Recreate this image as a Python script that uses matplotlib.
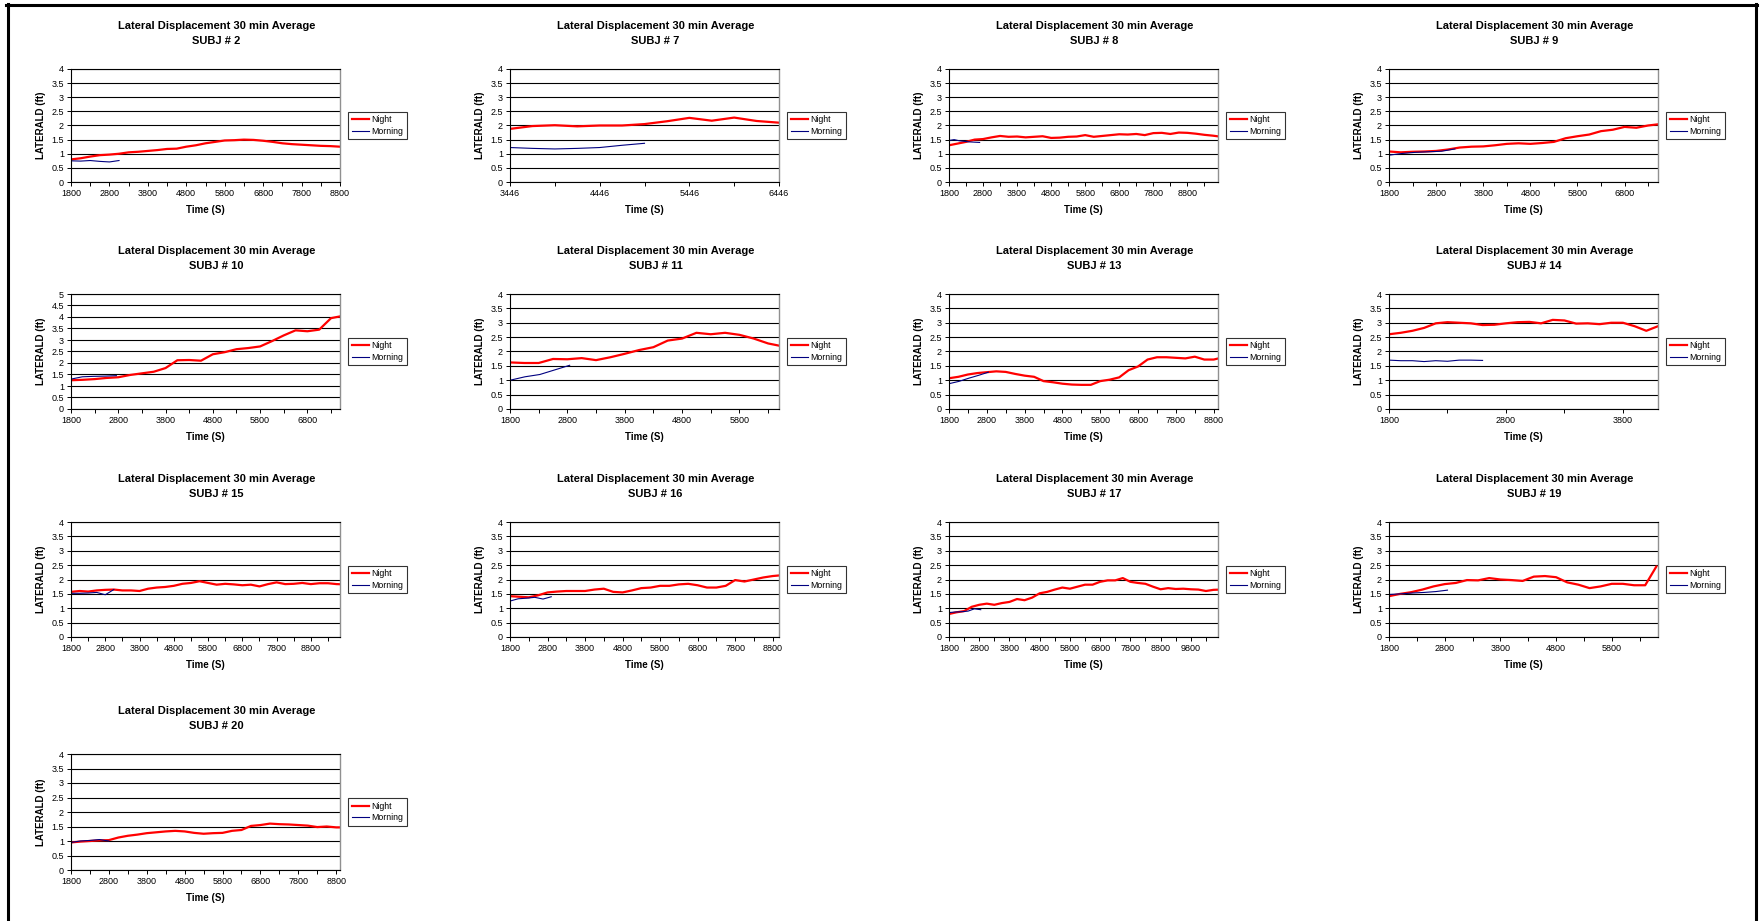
import numpy as np
import matplotlib
matplotlib.use('Agg')
import matplotlib.pyplot as plt
from matplotlib.lines import Line2D
from matplotlib.ticker import FuncFormatter, MultipleLocator

plt.rcParams['font.family'] = ['Liberation Sans', 'DejaVu Sans']

W, H = 1762, 921

# --- data --------------------------------------------------------------------
subjects = [2, 7, 8, 9, 10, 11, 13, 14, 15, 16, 17, 19, 20]
x_start = [1800, 3446, 1800, 1800, 1800, 1800, 1800, 1800, 1800, 1800, 1800, 1800, 1800]
x_end = [8800, 6446, 9700, 7510, 7490, 6490, 8913, 4100, 9650, 8970, 10700, 6630, 8900]
y_max = [4, 4, 4, 4, 5, 4, 4, 4, 4, 4, 4, 4, 4]
night_step = [250, 250, 250, 250, 250, 250, 250, 100, 250, 250, 250, 200, 250]
morning_step = [250, 250, 150, 280, 240, 260, 260, 100, 250, 220, 210, 210, 250]

night_2 = [0.80, 0.84, 0.90, 0.95, 0.97, 1.00, 1.05, 1.07, 1.10, 1.13, 1.17, 1.18, 1.25, 1.30,
           1.37, 1.42, 1.47, 1.48, 1.50, 1.49, 1.46, 1.42, 1.37, 1.34, 1.32, 1.30, 1.28, 1.27, 1.25]
morning_2 = [0.75, 0.74, 0.76, 0.73, 0.71, 0.76]

night_7 = [1.88, 1.98, 2.01, 1.97, 2.00, 2.00, 2.05, 2.15, 2.27, 2.17, 2.28, 2.16, 2.10]
morning_7 = [1.22, 1.19, 1.17, 1.19, 1.22, 1.30, 1.37]

night_8 = [1.30, 1.36, 1.42, 1.50, 1.52, 1.58, 1.63, 1.60, 1.61, 1.58, 1.60, 1.62, 1.56, 1.57,
           1.60, 1.61, 1.66, 1.60, 1.63, 1.66, 1.69, 1.68, 1.70, 1.66, 1.73, 1.74, 1.70, 1.75,
           1.74, 1.71, 1.67, 1.64, 1.60]
morning_8 = [1.47, 1.50, 1.46, 1.44, 1.42, 1.41, 1.40]

night_9 = [1.08, 1.05, 1.07, 1.08, 1.10, 1.15, 1.22, 1.25, 1.26, 1.30, 1.35, 1.37, 1.35, 1.38,
           1.42, 1.55, 1.62, 1.68, 1.80, 1.85, 1.95, 1.92, 2.00, 2.05]
morning_9 = [0.95, 1.01, 1.05, 1.07, 1.09, 1.17]

night_10 = [1.25, 1.27, 1.30, 1.35, 1.38, 1.48, 1.55, 1.62, 1.78, 2.12, 2.13, 2.10, 2.38, 2.47,
            2.60, 2.65, 2.72, 2.95, 3.20, 3.42, 3.38, 3.45, 3.95, 4.05]
morning_10 = [1.30, 1.40, 1.42, 1.43, 1.45]

night_11 = [1.62, 1.60, 1.60, 1.74, 1.73, 1.77, 1.70, 1.80, 1.92, 2.05, 2.15, 2.38, 2.45, 2.65,
            2.60, 2.65, 2.58, 2.45, 2.28, 2.18]
morning_11 = [1.00, 1.12, 1.20, 1.36, 1.52]

night_13 = [1.07, 1.12, 1.20, 1.25, 1.28, 1.31, 1.29, 1.22, 1.16, 1.12, 0.97, 0.93, 0.88, 0.85,
            0.84, 0.84, 0.97, 1.02, 1.10, 1.35, 1.48, 1.72, 1.80, 1.80, 1.78, 1.76, 1.82, 1.72,
            1.72, 1.80]
morning_13 = [0.88, 0.96, 1.07, 1.17, 1.28]

night_14 = [2.60, 2.65, 2.72, 2.82, 2.98, 3.02, 3.00, 2.98, 2.92, 2.93, 2.98, 3.02, 3.03, 2.98,
            3.10, 3.08, 2.97, 2.98, 2.95, 3.00, 3.00, 2.88, 2.72, 2.88]
morning_14 = [1.70, 1.68, 1.68, 1.65, 1.68, 1.66, 1.70, 1.70, 1.69]

night_15 = [1.57, 1.60, 1.58, 1.62, 1.64, 1.65, 1.62, 1.62, 1.60, 1.68, 1.72, 1.74, 1.78, 1.85,
            1.88, 1.94, 1.88, 1.82, 1.85, 1.83, 1.80, 1.82, 1.76, 1.84, 1.90, 1.84, 1.85, 1.88,
            1.84, 1.87, 1.87, 1.84, 1.83]
morning_15 = [1.52, 1.52, 1.53, 1.55, 1.47, 1.65]

night_16 = [1.42, 1.40, 1.38, 1.45, 1.55, 1.58, 1.60, 1.60, 1.60, 1.65, 1.68, 1.57, 1.55, 1.62,
            1.70, 1.72, 1.78, 1.78, 1.83, 1.85, 1.80, 1.72, 1.72, 1.78, 1.98, 1.93, 2.00, 2.07,
            2.12, 2.15]
morning_16 = [1.25, 1.33, 1.35, 1.38, 1.32, 1.40]

night_17 = [0.80, 0.86, 0.90, 1.05, 1.12, 1.16, 1.12, 1.18, 1.22, 1.32, 1.28, 1.37, 1.52, 1.57,
            1.65, 1.72, 1.68, 1.75, 1.82, 1.82, 1.92, 1.97, 1.97, 2.05, 1.92, 1.88, 1.85, 1.75,
            1.66, 1.70, 1.67, 1.68, 1.66, 1.65, 1.60, 1.64, 1.65]
morning_17 = [0.85, 0.87, 0.88, 0.90, 0.98, 0.95]

night_19 = [1.42, 1.50, 1.56, 1.65, 1.76, 1.84, 1.88, 1.98, 1.97, 2.05, 2.00, 1.98, 1.95, 2.10,
            2.12, 2.08, 1.90, 1.82, 1.70, 1.76, 1.85, 1.85, 1.80, 1.80, 2.45]
morning_19 = [1.48, 1.50, 1.53, 1.55, 1.58, 1.63]

night_20 = [0.95, 0.98, 1.00, 1.02, 1.03, 1.12, 1.18, 1.22, 1.27, 1.30, 1.33, 1.35, 1.33, 1.28,
            1.25, 1.27, 1.28, 1.35, 1.38, 1.52, 1.55, 1.60, 1.58, 1.57, 1.55, 1.53, 1.48, 1.50,
            1.47, 1.47]
morning_20 = [0.95, 1.00, 1.02, 1.05, 1.00]

night = [night_2, night_7, night_8, night_9, night_10, night_11, night_13, night_14,
         night_15, night_16, night_17, night_19, night_20]
morning = [morning_2, morning_7, morning_8, morning_9, morning_10, morning_11, morning_13,
           morning_14, morning_15, morning_16, morning_17, morning_19, morning_20]

# --- layout (pixels) ---------------------------------------------------------
col_left = [71, 510, 949, 1389]
row_top = [69, 294, 522, 754]
row_bottom = [182, 409, 637, 870]
plot_w = 269

fig = plt.figure(figsize=(W / 100, H / 100), dpi=100)

for i, subj in enumerate(subjects):
    r, c = divmod(i, 4)
    left, top, bottom = col_left[c], row_top[r], row_bottom[r]
    ax = fig.add_axes([left / W, 1 - bottom / H, plot_w / W, (bottom - top) / H])

    xs, xe = x_start[i], x_end[i]
    t_night = xs + night_step[i] * np.arange(len(night[i]))
    t_morning = xs + morning_step[i] * np.arange(len(morning[i]))
    ax.plot(t_night, night[i], color='#FF0000', lw=1.6, label='Night')
    ax.plot(t_morning, morning[i], color='#000080', lw=0.8, label='Morning')

    ax.set_xlim(xs, xe)
    ax.set_ylim(0, y_max[i])
    ticks = np.arange(xs, xe + 1, 500)
    ax.set_xticks(ticks)
    ax.set_xticklabels([str(t) if (t - xs) % 1000 == 0 else '' for t in ticks])
    ax.yaxis.set_major_locator(MultipleLocator(0.5))
    ax.yaxis.set_major_formatter(FuncFormatter(lambda v, p: '%g' % v))
    ax.grid(axis='y', color='black', lw=0.8)
    ax.set_axisbelow(True)
    ax.tick_params(labelsize=6.5, length=3, width=0.7, pad=2)

    for s in ['left', 'bottom', 'top']:
        ax.spines[s].set_color('black')
        ax.spines[s].set_linewidth(0.8)
    ax.spines['right'].set_color('#909090')
    ax.spines['right'].set_linewidth(1.0)

    ax.set_xlabel('Time (S)', fontsize=7, fontweight='bold', labelpad=5)
    ax.set_ylabel('LATERALD (ft)', fontsize=7, fontweight='bold', labelpad=4)

    leg = ax.legend(loc='center left', bbox_to_anchor=(1.03, 0.5), fontsize=6.3,
                    frameon=True, fancybox=False, edgecolor='black', handlelength=2.0,
                    borderpad=0.4, labelspacing=0.3, handletextpad=0.3, borderaxespad=0)
    leg.get_frame().set_linewidth(0.8)

    cx = (left + plot_w / 2 + 11) / W
    fig.text(cx, 1 - (top - 43) / H, 'Lateral Displacement 30 min Average',
             ha='center', va='center', fontsize=8, fontweight='bold')
    fig.text(cx, 1 - (top - 28) / H, 'SUBJ # %d' % subj,
             ha='center', va='center', fontsize=8, fontweight='bold')

# page frame
fig.add_artist(Line2D([6 / W, 1757 / W], [1 - 5.5 / H, 1 - 5.5 / H], color='black', lw=2.2))
fig.add_artist(Line2D([7.5 / W, 7.5 / W], [0, 1 - 4 / H], color='black', lw=2.2))
fig.add_artist(Line2D([1756 / W, 1756 / W], [0, 1 - 4 / H], color='black', lw=2.2))

fig.savefig('out.png', dpi=100)
